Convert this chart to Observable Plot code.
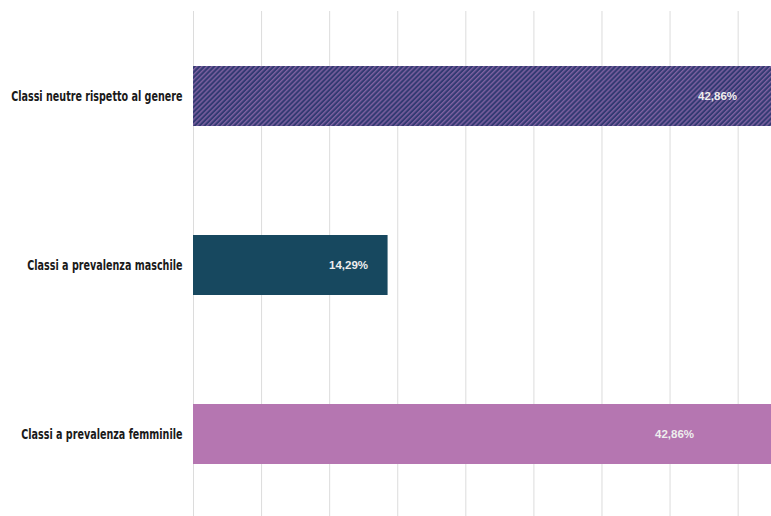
<!DOCTYPE html>
<html>
<head>
<meta charset="utf-8">
<script src="https://cdn.jsdelivr.net/npm/d3@7"></script>
<script src="https://cdn.jsdelivr.net/npm/@observablehq/plot@0.6"></script>
<style>
  html, body { margin: 0; padding: 0; background: #fff; overflow: hidden; }
  #chart { width: 771px; height: 516px; overflow: hidden; }
</style>
</head>
<body>
<div id="chart"></div>
<script>
const categories = [
  "Classi neutre rispetto al genere",
  "Classi a prevalenza maschile",
  "Classi a prevalenza femminile"
];
const values = [42.86, 14.29, 42.86];
const valueLabels = ["42,86%", "14,29%", "42,86%"];
const gridTicks = [0, 5, 10, 15, 20, 25, 30, 35, 40];

const fills = ["url(#hatch)", "#17485f", "#b576b1"];
const data = categories.map((c, i) => ({category: c, value: values[i], label: valueLabels[i], fill: fills[i]}));

const valueFont = {fill: "#eeeeee", fontSize: 11.5, fontWeight: "bold", fontFamily: "'Liberation Sans', sans-serif", textAnchor: "end"};

const chart = Plot.plot({
  width: 771,
  height: 516,
  marginLeft: 193,
  marginRight: 0,
  marginTop: 11,
  marginBottom: -3,
  style: {background: "#fff", overflow: "hidden"},
  x: {domain: [0, 42.45], axis: null},
  y: {domain: categories, paddingInner: 0.643, paddingOuter: 0.3215, label: null},
  marks: [
    Plot.gridX(gridTicks, {stroke: "#dcdcdc", strokeOpacity: 1, strokeWidth: 1}),
    Plot.barX(data, {x: "value", y: "category", fill: "fill"}),
    Plot.axisY({tickSize: 0, tickPadding: 11, label: null, fontSize: 13.5, fontWeight: "bold", fill: "#1a1a1a", fontFamily: "'DejaVu Sans Condensed', 'DejaVu Sans', sans-serif"}),
    Plot.text([data[0]], {x: "value", y: "category", text: "label", dx: -40, ...valueFont}),
    Plot.text([data[1]], {x: "value", y: "category", text: "label", dx: -20, ...valueFont}),
    Plot.text([data[2]], {x: "value", y: "category", text: "label", dx: -83, ...valueFont})
  ]
});

// hatch pattern for the first bar
const ns = "http://www.w3.org/2000/svg";
const defs = document.createElementNS(ns, "defs");
defs.innerHTML = `
  <pattern id="hatch" patternUnits="userSpaceOnUse" width="3.5" height="3.5" patternTransform="rotate(45)">
    <rect width="3.5" height="3.5" fill="#333a72"></rect>
    <rect width="1.4" height="3.5" fill="#7f62a2"></rect>
  </pattern>`;
chart.insertBefore(defs, chart.firstChild);

document.getElementById("chart").appendChild(chart);

// condense the category labels horizontally (anchored at their right edge)
chart.querySelectorAll("[aria-label='y-axis tick label'] text").forEach(t => {
  const tr = t.getAttribute("transform") || "";
  t.setAttribute("transform", tr + " scale(0.79,1)");
});
</script>
</body>
</html>
